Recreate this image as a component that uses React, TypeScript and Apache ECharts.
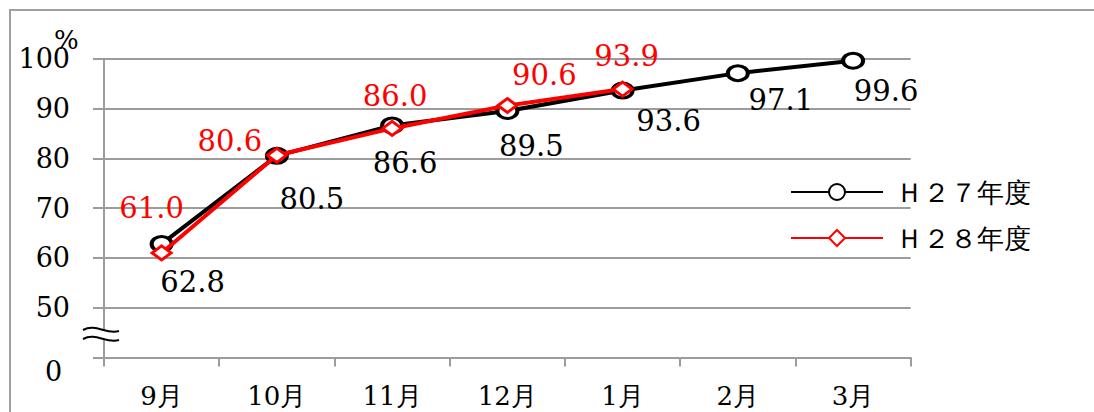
import React, { useEffect, useRef } from 'react';
import * as echarts from 'echarts';

const categories = ['9月', '10月', '11月', '12月', '1月', '2月', '3月'];
const h27Name = 'Ｈ２７年度';
const h28Name = 'Ｈ２８年度';
const h27Values = [62.8, 80.5, 86.6, 89.5, 93.6, 97.1, 99.6];
const h28Values = [61.0, 80.6, 86.0, 90.6, 93.9];
const yMin = 40;
const yMax = 100;
const yInterval = 10;
const brokenBaseLabel = '0';
const unitLabel = '%';

// label offsets (styling only)
const h27LabelOffsets = [[31, 38], [35, 43], [13, 38], [24, 35], [46, 30], [43, 27], [33, 30]];
const h28LabelOffsets = [[-10, -45], [-47, -14], [3, -32], [37, -31], [4, -33]];

const FONT = "DejaVu Serif";
const GRAY = '#9c9c9c';
const ELLIPSE = 'path://M0,50 A50,50 0 1 1 100,50 A50,50 0 1 1 0,50 Z';

export default function App() {
  const ref = useRef<HTMLDivElement>(null);
  useEffect(() => {
    document.body.style.margin = '0';
    const chart = echarts.init(ref.current!, undefined, { renderer: 'svg' });
    const option: any = {
      animation: false,
      backgroundColor: '#fff',
      grid: { left: 104, right: 183.3, top: 58.7, bottom: 54.5, containLabel: false },
      legend: {
        orient: 'vertical',
        left: 790,
        top: 178,
        padding: 0,
        itemWidth: 92,
        itemHeight: 20,
        itemGap: 18,
        data: [h27Name, h28Name],
        textStyle: { fontSize: 27, lineHeight: 28, fontFamily: FONT, color: '#000', padding: [0, 0, 0, 8] },
      },
      xAxis: {
        type: 'category',
        data: categories,
        boundaryGap: true,
        axisLine: { show: true, lineStyle: { color: GRAY, width: 2 } },
        axisTick: { show: true, length: 9, alignWithLabel: false, lineStyle: { color: GRAY, width: 2 } },
        axisLabel: { margin: 25, fontSize: 26, fontFamily: FONT, color: '#000' },
        splitLine: { show: false },
      },
      yAxis: {
        type: 'value',
        min: yMin,
        max: yMax,
        interval: yInterval,
        axisLine: { show: true, lineStyle: { color: GRAY, width: 2 } },
        axisTick: { show: true, length: 11, inside: false, lineStyle: { color: GRAY, width: 2 } },
        axisLabel: {
          margin: 34,
          fontSize: 27,
          fontFamily: FONT,
          color: '#000',
          padding: [5, 0, 0, 0],
          formatter: (v: number) => (v === yMin ? '' : String(v)),
        },
        splitLine: { show: true, lineStyle: { color: GRAY, width: 2 } },
      },
      series: [
        {
          name: h27Name,
          type: 'line',
          data: h27Values.map((v, i) => ({ value: v, label: { offset: h27LabelOffsets[i] } })),
          symbol: ELLIPSE,
          symbolSize: [20, 15],
          itemStyle: { color: '#fff', borderColor: '#000', borderWidth: 3.5 },
          lineStyle: { color: '#000', width: 4 },
          label: {
            show: true,
            position: 'inside',
            fontSize: 29,
            fontFamily: FONT,
            color: '#000',
            formatter: (p: any) => Number(p.value).toFixed(1),
          },
          z: 2,
        },
        {
          name: h28Name,
          type: 'line',
          data: h28Values.map((v, i) => ({ value: v, label: { offset: h28LabelOffsets[i] } })),
          symbol: 'diamond',
          symbolSize: [19, 14],
          itemStyle: { color: '#fff', borderColor: '#ff0000', borderWidth: 3 },
          lineStyle: { color: '#ff0000', width: 4 },
          label: {
            show: true,
            position: 'inside',
            fontSize: 29,
            fontFamily: FONT,
            color: '#ff0000',
            formatter: (p: any) => Number(p.value).toFixed(1),
          },
          z: 3,
        },
      ],
      graphic: [
        {
          type: 'rect',
          silent: true,
          z: -1,
          shape: { x: 10, y: 10, width: 1200, height: 500 },
          style: { fill: 'none', stroke: '#a0a0a0', lineWidth: 2 },
        },
        {
          type: 'text',
          x: 54,
          y: 27,
          style: { text: unitLabel, fontSize: 26, fontFamily: FONT, fill: '#000' },
        },
        {
          type: 'text',
          x: 53.5,
          y: 371,
          style: { text: brokenBaseLabel, fontSize: 27, fontFamily: FONT, fill: '#000', align: 'center', verticalAlign: 'middle' },
        },
        {
          type: 'rect',
          z: 10,
          shape: { x: 100, y: 331, width: 8, height: 8 },
          style: { fill: '#fff' },
        },
        {
          type: 'bezierCurve',
          z: 11,
          shape: { x1: 83, y1: 330, cpx1: 96, cpy1: 323, cpx2: 106, cpy2: 335, x2: 119, y2: 331 },
          style: { stroke: '#000', lineWidth: 2, fill: 'none' },
        },
        {
          type: 'bezierCurve',
          z: 11,
          shape: { x1: 83, y1: 339, cpx1: 96, cpy1: 332, cpx2: 106, cpy2: 344, x2: 119, y2: 340 },
          style: { stroke: '#000', lineWidth: 2, fill: 'none' },
        },
      ],
    };
    chart.setOption(option);
    return () => chart.dispose();
  }, []);
  return <div ref={ref} style={{ width: 1094, height: 412 }} />;
}
